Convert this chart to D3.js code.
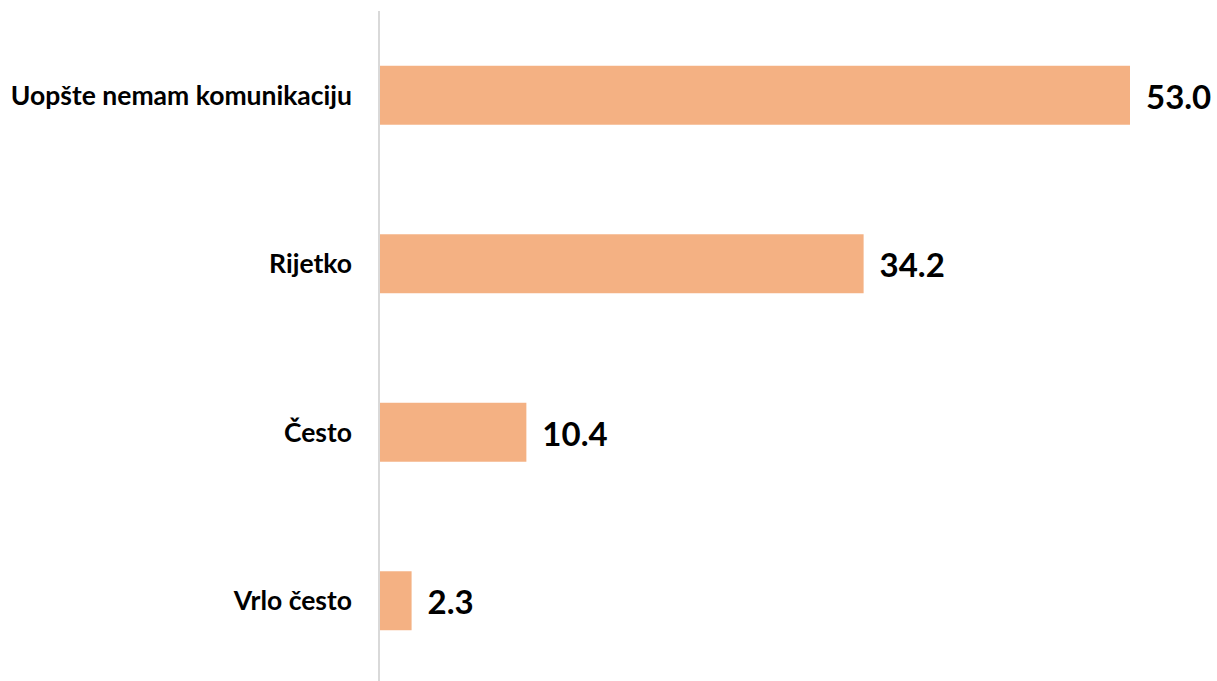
<!DOCTYPE html>
<html>
<head>
<meta charset="utf-8">
<script src="https://cdn.jsdelivr.net/npm/d3@7"></script>
<style>
  body { margin: 0; background: #fff; }
  text { font-family: Lato, "Open Sans", sans-serif; font-weight: bold; fill: #000; }
</style>
</head>
<body>
<div class="chart"></div>
<script>
"use strict";

const categories = ["Uopšte nemam komunikaciju", "Rijetko", "Često", "Vrlo često"];
const values = [53.0, 34.2, 10.4, 2.3];

const width = 1217;
const height = 681;
const left = 379;

const svg = d3
  .select(".chart")
  .append("svg")
  .attr("width", width)
  .attr("height", height);

const x = d3.scaleLinear().domain([0, 53]).range([left, 1130]);

const y = d3
  .scaleBand()
  .domain(categories)
  .range([11, 685])
  .paddingInner(0.65)
  .paddingOuter(0.325);

// bars
svg
  .selectAll("rect")
  .data(values)
  .enter()
  .append("rect")
  .attr("x", x(0))
  .attr("y", (d, i) => y(categories[i]))
  .attr("width", (d) => x(d) - x(0))
  .attr("height", y.bandwidth())
  .style("fill", "#F4B183");

// axis line
svg
  .append("line")
  .attr("x1", left)
  .attr("x2", left)
  .attr("y1", 11)
  .attr("y2", height)
  .style("stroke", "#d9d9d9")
  .style("stroke-width", 2);

// category labels
svg
  .selectAll(".cat")
  .data(categories)
  .enter()
  .append("text")
  .attr("class", "cat")
  .attr("text-anchor", "end")
  .attr("x", 352)
  .attr("y", (d) => y(d) + y.bandwidth() / 2)
  .attr("dy", "0.35em")
  .style("font-size", "26.5px")
  .text((d) => d);

// value labels
svg
  .selectAll(".val")
  .data(values)
  .enter()
  .append("text")
  .attr("class", "val")
  .attr("x", (d) => x(d) + 16)
  .attr("y", (d, i) => y(categories[i]) + y.bandwidth() / 2 + 2)
  .attr("dy", "0.35em")
  .style("font-size", "33px")
  .text((d) => d.toFixed(1));
</script>
</body>
</html>
